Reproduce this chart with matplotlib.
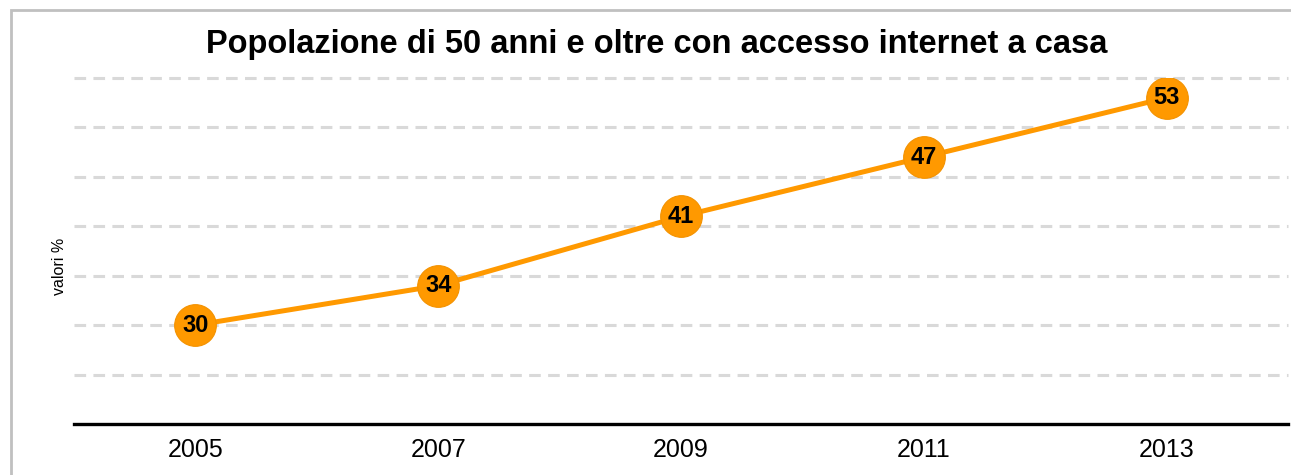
import matplotlib
matplotlib.use("Agg")
import matplotlib.pyplot as plt
from matplotlib.patches import Rectangle

years = ["2005", "2007", "2009", "2011", "2013"]
values = [30, 34, 41, 47, 53]
title = "Popolazione di 50 anni e oltre con accesso internet a casa"
ylabel = "valori %"

plt.rcParams['font.family'] = ['Liberation Sans', 'DejaVu Sans']

W, H = 1291, 475
fig = plt.figure(figsize=(W / 100, H / 100), dpi=100)
fig.patch.set_facecolor("white")

# outer frame (cut at right/bottom)
fig.patches.append(Rectangle((11 / W, -0.1), 1.2, (H - 10) / H + 0.1, transform=fig.transFigure,
                             fill=False, edgecolor="#c0c0c0", linewidth=2))

ax = fig.add_axes([74 / W, (H - 424) / H, (1288 - 74) / W, (424 - 78) / H])
x = list(range(len(years)))
ax.set_xlim(-0.5, len(years) - 0.5)
ax.set_ylim(20, 55)
for g in [25, 30, 35, 40, 45, 50, 55]:
    ax.axhline(g, color="#d9d9d9", linewidth=2.2, linestyle=(0, (3.8, 2.4)), zorder=1, clip_on=False)

ax.plot(x, values, color="#FF9900", linewidth=3.6, zorder=3, solid_capstyle="butt")
ax.plot(x, values, linestyle="none", marker="o", markersize=30, markerfacecolor="#FF9900",
        markeredgecolor="#F39200", markeredgewidth=0.8, zorder=4)
for xi, v in zip(x, values):
    ax.text(xi, v, str(v), ha="center", va="center", fontsize=17, fontweight="bold", color="black", zorder=5)

for s in ["top", "right", "left"]:
    ax.spines[s].set_visible(False)
ax.spines["bottom"].set_linewidth(2.4)
ax.spines["bottom"].set_color("black")
ax.set_yticks([])
ax.set_xticks(x)
ax.set_xticklabels(years, fontsize=18)
ax.tick_params(axis="x", length=0, pad=10)

fig.text(60 / W, 1 - 266 / H, ylabel, rotation=90, ha="center", va="center", fontsize=11.5)
fig.text(657 / W, 1 - 45 / H, title, ha="center", va="center", fontsize=23.5, fontweight="bold")

fig.savefig("out.png", dpi=100)
